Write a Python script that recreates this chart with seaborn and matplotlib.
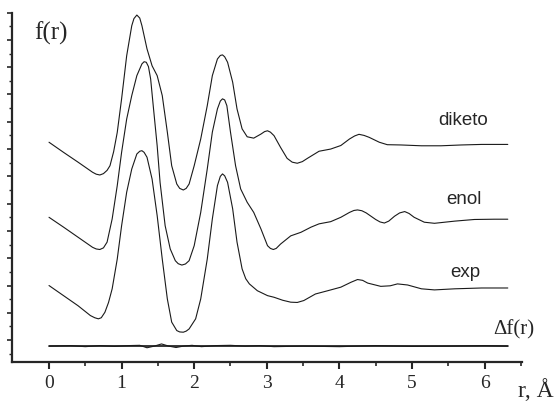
import seaborn as sns
import matplotlib.pyplot as plt
import pandas as pd

# values (y in arbitrary units, curves offset)
r_diketo = [0.0, 0.2, 0.4, 0.6, 0.65, 0.7, 0.75, 0.8, 0.84, 0.89, 0.94, 1.0, 1.07, 1.14, 1.17,
            1.21, 1.25, 1.28, 1.35, 1.42, 1.49, 1.56, 1.63, 1.69, 1.76, 1.80, 1.85, 1.89, 1.93,
            2.0, 2.09, 2.18, 2.25, 2.32, 2.36, 2.39, 2.42, 2.46, 2.53, 2.59, 2.66, 2.73, 2.82,
            2.92, 2.97, 3.01, 3.05, 3.10, 3.19, 3.28, 3.35, 3.42, 3.49, 3.56, 3.72, 3.88, 4.02,
            4.14, 4.21, 4.27, 4.34, 4.41, 4.55, 4.66, 4.85, 5.13, 5.40, 5.68, 5.96, 6.32]
f_diketo = [7.25, 6.88, 6.52, 6.15, 6.08, 6.05, 6.10, 6.22, 6.39, 6.90, 7.61, 8.84, 10.42, 11.52, 11.78,
            11.91, 11.80, 11.52, 10.67, 10.05, 9.69, 8.96, 7.62, 6.39, 5.72, 5.56, 5.50, 5.56, 5.72,
            6.39, 7.37, 8.59, 9.69, 10.30, 10.43, 10.45, 10.38, 10.18, 9.45, 8.47, 7.74, 7.45, 7.40,
            7.55, 7.64, 7.67, 7.62, 7.49, 7.06, 6.66, 6.52, 6.48, 6.54, 6.66, 6.92, 7.00, 7.13,
            7.37, 7.48, 7.54, 7.50, 7.43, 7.25, 7.16, 7.15, 7.12, 7.12, 7.15, 7.17, 7.17]

r_enol = [0.0, 0.2, 0.4, 0.6, 0.65, 0.7, 0.75, 0.80, 0.87, 0.94, 1.0, 1.07, 1.14, 1.21, 1.28, 1.31,
          1.34, 1.37, 1.40, 1.44, 1.49, 1.53, 1.60, 1.67, 1.74, 1.78, 1.83, 1.88, 1.93, 2.0, 2.09,
          2.18, 2.25, 2.32, 2.36, 2.39, 2.42, 2.45, 2.50, 2.57, 2.64, 2.73, 2.82, 2.92, 3.01,
          3.05, 3.09, 3.13, 3.19, 3.33, 3.47, 3.61, 3.72, 3.88, 4.02, 4.14, 4.20, 4.25, 4.31,
          4.37, 4.50, 4.56, 4.62, 4.68, 4.76, 4.83, 4.90, 4.96, 5.03, 5.17, 5.31, 5.59, 5.86,
          6.14, 6.32]
f_enol = [4.50, 4.14, 3.77, 3.40, 3.34, 3.32, 3.38, 3.59, 4.44, 5.66, 6.88, 8.10, 8.96, 9.69, 10.12, 10.20,
          10.18, 10.02, 9.57, 8.47, 7.12, 5.78, 4.19, 3.34, 2.91, 2.80, 2.75, 2.79, 2.91, 3.46, 4.68,
          6.27, 7.62, 8.47, 8.76, 8.84, 8.80, 8.59, 7.62, 6.39, 5.54, 5.05, 4.68, 4.07, 3.46,
          3.36, 3.32, 3.36, 3.52, 3.82, 3.95, 4.14, 4.26, 4.34, 4.50, 4.68, 4.75, 4.77, 4.74,
          4.66, 4.42, 4.33, 4.29, 4.36, 4.54, 4.66, 4.71, 4.64, 4.50, 4.32, 4.28, 4.36, 4.42,
          4.43, 4.43]

r_exp = [0.0, 0.2, 0.4, 0.57, 0.63, 0.68, 0.72, 0.77, 0.82, 0.87, 0.94, 1.0, 1.07, 1.14, 1.21,
         1.25, 1.28, 1.31, 1.35, 1.42, 1.49, 1.56, 1.63, 1.69, 1.76, 1.80, 1.85, 1.89, 1.93,
         2.02, 2.09, 2.18, 2.25, 2.32, 2.36, 2.39, 2.42, 2.46, 2.53, 2.59, 2.66, 2.71, 2.76,
         2.87, 3.01, 3.10, 3.22, 3.33, 3.42, 3.51, 3.67, 3.84, 4.02, 4.16, 4.25, 4.32, 4.39,
         4.57, 4.70, 4.80, 4.94, 5.13, 5.31, 5.59, 5.96, 6.32]
f_exp = [2.00, 1.63, 1.26, 0.90, 0.82, 0.78, 0.82, 1.02, 1.38, 1.88, 2.97, 4.19, 5.42, 6.27, 6.82,
         6.92, 6.94, 6.88, 6.70, 5.90, 4.56, 2.97, 1.51, 0.66, 0.35, 0.30, 0.29, 0.33, 0.41,
         0.78, 1.51, 2.97, 4.44, 5.66, 6.00, 6.09, 6.02, 5.78, 4.81, 3.59, 2.61, 2.25, 2.06,
         1.81, 1.63, 1.57, 1.46, 1.39, 1.38, 1.45, 1.69, 1.81, 1.94, 2.12, 2.22, 2.19, 2.09,
         1.97, 1.99, 2.06, 2.02, 1.88, 1.84, 1.88, 1.91, 1.91]

r_diff = [0.0, 0.3, 0.5, 0.7, 0.9, 1.1, 1.25, 1.35, 1.45, 1.55, 1.65, 1.75, 1.85, 1.97, 2.1,
          2.3, 2.5, 2.7, 2.9, 3.1, 3.5, 4.0, 4.5, 5.0, 5.5, 6.0, 6.32]
f_diff = [-0.22, -0.20, -0.24, -0.20, -0.23, -0.20, -0.19, -0.28, -0.22, -0.14, -0.22, -0.27,
          -0.22, -0.19, -0.24, -0.20, -0.19, -0.22, -0.20, -0.24, -0.22, -0.24, -0.20, -0.23,
          -0.22, -0.20, -0.22]
baseline = -0.22

labels = ["diketo", "enol", "exp"]
label_x = [5.70, 5.71, 5.74]
label_y = [7.92, 5.01, 2.36]

sns.set_style("ticks")
plt.rcParams['font.family'] = ['Liberation Serif', 'DejaVu Serif']

fig = plt.figure(figsize=(5.6, 4.02), dpi=100)
ax = fig.add_axes([0.0214, 0.0978, 0.910, 0.8684])

line_kw = dict(color="#1a1a1a", linewidth=0.8, sort=False, ax=ax,
               solid_joinstyle="round", solid_capstyle="round")
sns.lineplot(data=pd.DataFrame({"r": r_diketo, "f": f_diketo}), x="r", y="f", **line_kw)
sns.lineplot(data=pd.DataFrame({"r": r_enol, "f": f_enol}), x="r", y="f", **line_kw)
sns.lineplot(data=pd.DataFrame({"r": r_exp, "f": f_exp}), x="r", y="f", **line_kw)
sns.lineplot(data=pd.DataFrame({"r": [r_diff[0], r_diff[-1]], "f": [baseline, baseline]}),
             x="r", y="f", color="black", linewidth=1.1, sort=False, ax=ax)
sns.lineplot(data=pd.DataFrame({"r": r_diff, "f": f_diff}), x="r", y="f", **line_kw)

for name, lx, ly in zip(labels, label_x, label_y):
    ax.text(lx, ly, name, ha="center", va="baseline", fontsize=13.5,
            family=["Liberation Sans", "DejaVu Sans"])
ax.text(6.12, 0.23, "Δf(r)", ha="left", va="baseline", fontsize=15)
ax.text(-0.2, 11.05, "f(r)", ha="left", va="baseline", fontsize=18)
ax.text(6.46, -2.04, "r, Å", ha="left", va="baseline", fontsize=17, clip_on=False)

ax.set_xlim(-0.51, 6.51)
ax.set_ylim(-0.79, 12)
ax.set_xticks(range(0, 7))
ax.set_xticks([0.5, 1.5, 2.5, 3.5, 4.5, 5.5, 6.5], minor=True)
ax.set_yticks(range(0, 13))
ax.set_yticks([k + 0.5 for k in range(-1, 12)], minor=True)
ax.set_yticklabels([])
ax.set_xlabel("")
ax.set_ylabel("")
ax.tick_params(axis="x", which="major", direction="out", length=5, width=1.5, labelsize=14, pad=4)
ax.tick_params(axis="x", which="minor", direction="out", length=3, width=1.2)
ax.tick_params(axis="y", which="major", direction="out", length=3.5, width=1.2)
ax.tick_params(axis="y", which="minor", direction="out", length=2, width=1.0)
sns.despine(ax=ax)
for s in ["left", "bottom"]:
    ax.spines[s].set_linewidth(1.6)

fig.savefig("out.png", dpi=100)
